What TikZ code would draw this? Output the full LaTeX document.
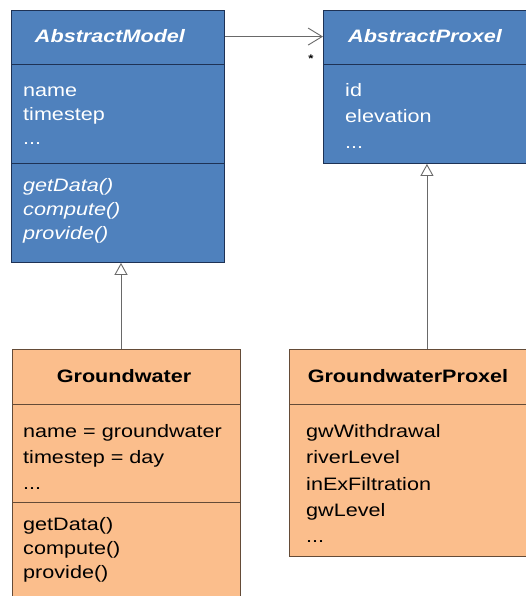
\documentclass[tikz,border=0pt]{standalone}
\usepackage{fontspec}
\setmainfont{Liberation Sans}[FakeStretch=1.2]
\usetikzlibrary{arrows.meta}
\definecolor{blueF}{RGB}{79,129,189}
\definecolor{blueD}{RGB}{30,50,85}
\definecolor{orangeF}{RGB}{251,190,140}
\definecolor{orangeD}{RGB}{100,75,55}
\definecolor{lineG}{RGB}{105,105,105}
\tikzset{
  bluebox/.style={draw=blueD, line width=0.9pt, fill=blueF, inner sep=0pt, anchor=north west},
  orangebox/.style={draw=orangeD, line width=0.9pt, fill=orangeF, inner sep=0pt, anchor=north west},
  bsep/.style={draw=blueD, line width=1pt},
  osep/.style={draw=orangeD, line width=0.9pt},
  txt/.style={font=\fontsize{18}{22}\selectfont, inner sep=0pt, anchor=base west},
  wtxt/.style={txt, text=white},
  ttl/.style={font=\fontsize{18}{22}\selectfont\bfseries, inner sep=0pt, anchor=base},
  inherit/.style={draw=lineG, line width=0.9pt, -{Triangle[open,length=12pt,width=13pt,fill=white]}},
  assoc/.style={draw=lineG, line width=0.9pt, -{Straight Barb[length=14pt,width=17pt]}}
}
\begin{document}
\begin{tikzpicture}[x=1pt,y=-1pt]
\useasboundingbox (0,0) rectangle (526,596);
\clip (0,0) rectangle (526,596);
\fill[white] (0,0) rectangle (526,596);

% AbstractModel
\node[bluebox, minimum width=213pt, minimum height=252pt] (am) at (11,10) {};
\draw[bsep] (am.west |- 0,65) -- (am.east |- 0,65);
\draw[bsep] (am.west |- 0,163) -- (am.east |- 0,163);
\node[ttl, text=white, font=\fontsize{18}{22}\selectfont\bfseries\itshape] (amT) at (110,43) {AbstractModel};
\node[wtxt] (am1) at (23,97) {name};
\node[wtxt] (am2) at (23,121) {timestep};
\node[wtxt] (am3) at (23,145) {...};
\node[wtxt, font=\fontsize{18}{22}\selectfont\itshape] (am4) at (23,191) {getData()};
\node[wtxt, font=\fontsize{18}{22}\selectfont\itshape] (am5) at (23,215) {compute()};
\node[wtxt, font=\fontsize{18}{22}\selectfont\itshape] (am6) at (23,239) {provide()};

% AbstractProxel
\node[bluebox, minimum width=207pt, minimum height=153pt] (ap) at (323,10) {};
\draw[bsep] (ap.west |- 0,65) -- (ap.east |- 0,65);
\node[ttl, text=white, font=\fontsize{18}{22}\selectfont\bfseries\itshape] (apT) at (425,43) {AbstractProxel};
\node[wtxt] (ap1) at (345,97) {id};
\node[wtxt] (ap2) at (345,123) {elevation};
\node[wtxt] (ap3) at (345,149) {...};

% Groundwater
\node[orangebox, minimum width=228pt, minimum height=270pt] (gw) at (12,349) {};
\draw[osep] (gw.west |- 0,404) -- (gw.east |- 0,404);
\draw[osep] (gw.west |- 0,502) -- (gw.east |- 0,502);
\node[ttl] (gwT) at (124,382) {Groundwater};
\node[txt] (gw1) at (23,437) {name = groundwater};
\node[txt] (gw2) at (23,463) {timestep = day};
\node[txt] (gw3) at (23,489) {...};
\node[txt] (gw4) at (23,530) {getData()};
\node[txt] (gw5) at (23,554) {compute()};
\node[txt] (gw6) at (23,578) {provide()};

% GroundwaterProxel
\node[orangebox, minimum width=241pt, minimum height=207pt] (gp) at (289,349) {};
\draw[osep] (gp.west |- 0,404) -- (gp.east |- 0,404);
\node[ttl] (gpT) at (408,382) {GroundwaterProxel};
\node[txt] (gp1) at (306,437) {gwWithdrawal};
\node[txt] (gp2) at (306,463) {riverLevel};
\node[txt] (gp3) at (306,490) {inExFiltration};
\node[txt] (gp4) at (306,516) {gwLevel};
\node[txt] (gp5) at (306,542) {...};

% connectors
\draw[inherit] (gw.north -| 121,0) -- (am.south -| 121,0);
\draw[inherit] (gp.north -| ap.south) -- (ap.south);
\draw[assoc] (amT -| am.east) -- (amT -| ap.west);
\node[font=\fontsize{11}{12}\selectfont\bfseries, inner sep=0pt] (star) at (311,59) {*};
\end{tikzpicture}
\end{document}
